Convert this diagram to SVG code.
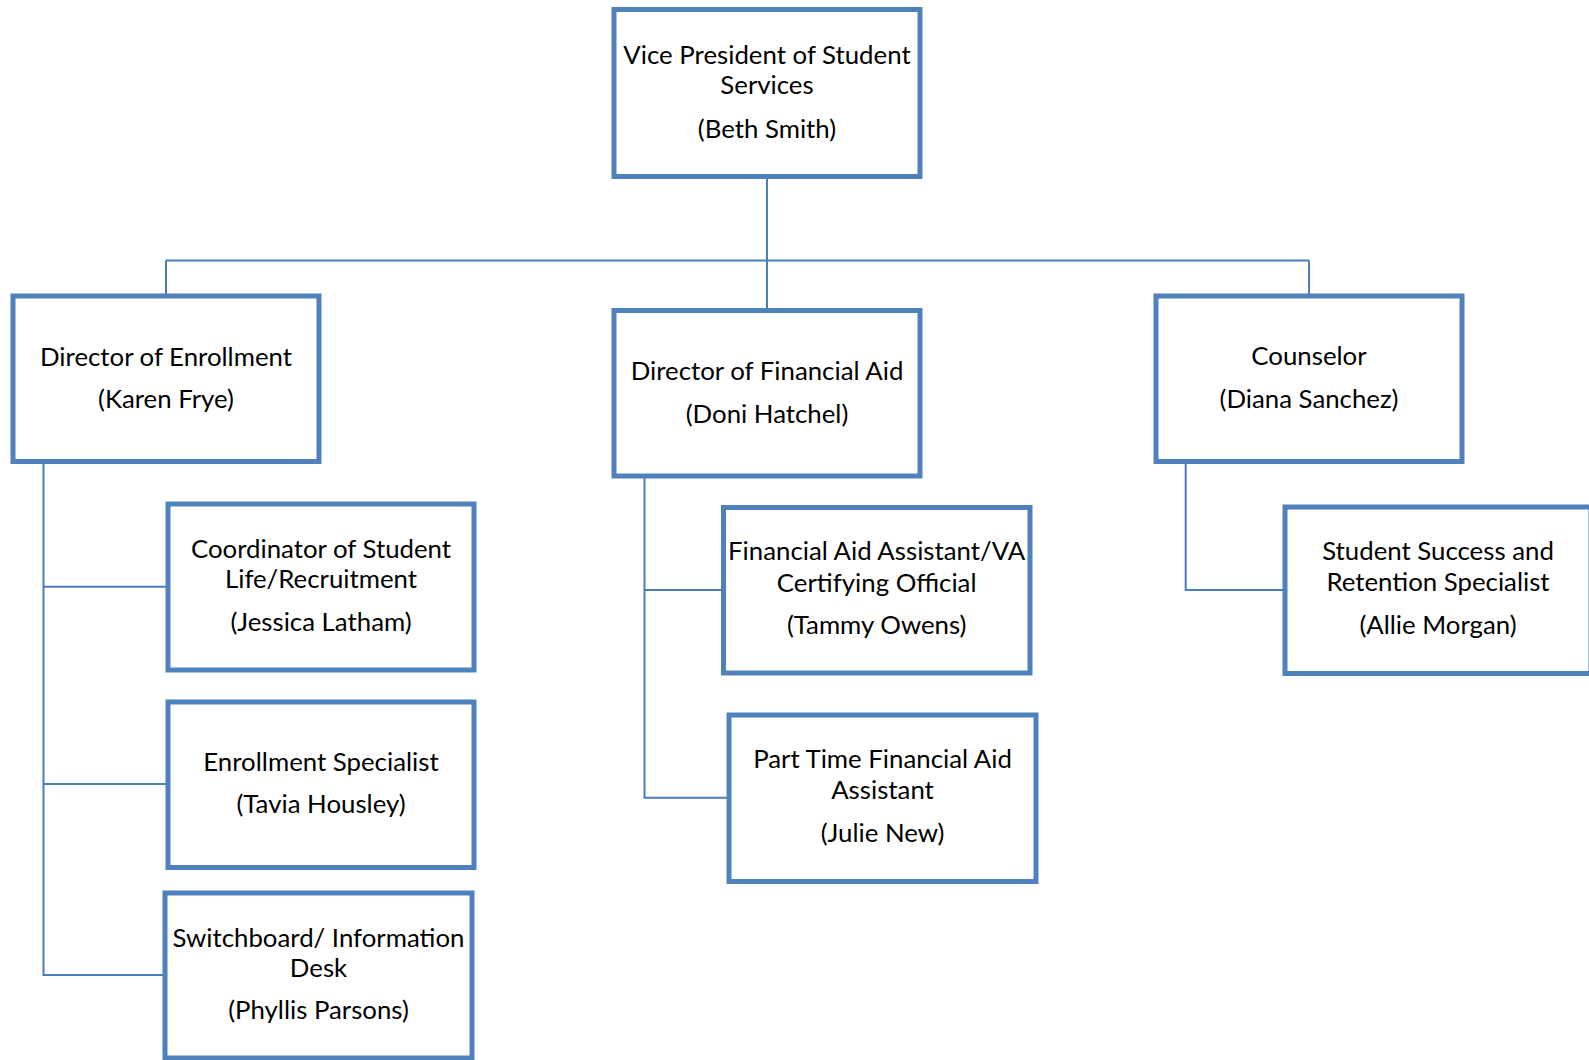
<svg xmlns="http://www.w3.org/2000/svg" width="1589" height="1060" viewBox="0 0 1589 1060">
<style>
.box{fill:#ffffff;stroke:#4F81BD;stroke-width:5}
.t{font-family:Lato,"Liberation Sans",sans-serif;font-size:25.8px;fill:#000000;text-anchor:middle}
.c{fill:none;stroke:#4A7EBB;stroke-width:2}
</style>
<rect width="1589" height="1060" fill="#ffffff"/>
<g id="connectors">
<path class="c" d="M767 177 V310.5"/>
<path class="c" d="M166 260.5 H1309"/>
<path class="c" d="M166 260.5 V296"/>
<path class="c" d="M1309 260.5 V296"/>
<path class="c" d="M43.5 461.5 V975 H165"/>
<path class="c" d="M43.5 586.7 H168"/>
<path class="c" d="M43.5 784 H168"/>
<path class="c" d="M644.5 476 V797.7 H729"/>
<path class="c" d="M644.5 590 H723.5"/>
<path class="c" d="M1185.7 461.5 V590 H1285"/>
</g>
<g id="vp">
<rect class="box" x="614" y="9.5" width="306" height="167"/>
<text class="t" x="767" y="64">Vice President of Student</text>
<text class="t" x="767" y="94">Services</text>
<text class="t" x="767" y="137.5">(Beth Smith)</text>
</g>
<g id="dir-enrollment">
<rect class="box" x="13" y="296" width="306" height="165.5"/>
<text class="t" x="166" y="366">Director of Enrollment</text>
<text class="t" x="166" y="407.5">(Karen Frye)</text>
</g>
<g id="dir-finaid">
<rect class="box" x="614" y="310.5" width="306" height="165.5"/>
<text class="t" x="767" y="380">Director of Financial Aid</text>
<text class="t" x="767" y="422.5">(Doni Hatchel)</text>
</g>
<g id="counselor">
<rect class="box" x="1156" y="296" width="306" height="165.5"/>
<text class="t" x="1309" y="365">Counselor</text>
<text class="t" x="1309" y="407.5">(Diana Sanchez)</text>
</g>
<g id="coordinator">
<rect class="box" x="168" y="504" width="306" height="166"/>
<text class="t" x="321" y="558">Coordinator of Student</text>
<text class="t" x="321" y="588">Life/Recruitment</text>
<text class="t" x="321" y="631">(Jessica Latham)</text>
</g>
<g id="enrollment-specialist">
<rect class="box" x="168" y="702" width="306" height="165.5"/>
<text class="t" x="321" y="770.5">Enrollment Specialist</text>
<text class="t" x="321" y="812.5">(Tavia Housley)</text>
</g>
<g id="switchboard">
<rect class="box" x="165" y="893" width="307" height="165"/>
<text class="t" x="318.5" y="947">Switchboard/ Information</text>
<text class="t" x="318.5" y="977">Desk</text>
<text class="t" x="318.5" y="1019">(Phyllis Parsons)</text>
</g>
<g id="fa-assistant">
<rect class="box" x="723.5" y="507.5" width="306.5" height="165.5"/>
<text class="t" x="876.7" y="560">Financial Aid Assistant/VA</text>
<text class="t" x="876.7" y="591.5">Certifying Official</text>
<text class="t" x="876.7" y="634">(Tammy Owens)</text>
</g>
<g id="part-time">
<rect class="box" x="729" y="715" width="307" height="166.5"/>
<text class="t" x="882.5" y="768">Part Time Financial Aid</text>
<text class="t" x="882.5" y="799">Assistant</text>
<text class="t" x="882.5" y="841.5">(Julie New)</text>
</g>
<g id="student-success">
<rect class="box" x="1285" y="507" width="306" height="166.5"/>
<text class="t" x="1438" y="560">Student Success and</text>
<text class="t" x="1438" y="591">Retention Specialist</text>
<text class="t" x="1438" y="634">(Allie Morgan)</text>
</g>
</svg>
